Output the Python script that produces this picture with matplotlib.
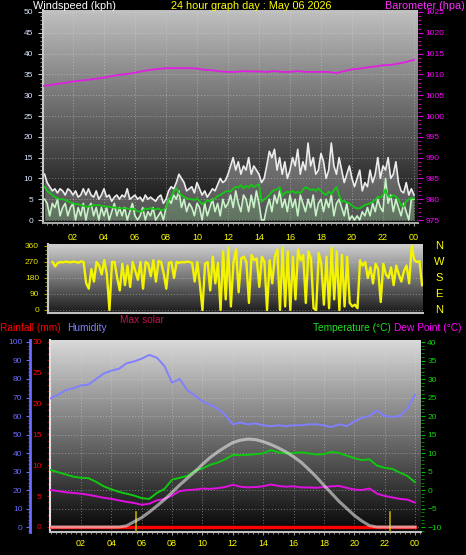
import numpy as np
import matplotlib
matplotlib.use('Agg')
import matplotlib.pyplot as plt
from matplotlib.colors import LinearSegmentedColormap
from matplotlib.ticker import MultipleLocator
from matplotlib.transforms import blended_transform_factory

plt.rcParams['font.family'] = ['Liberation Sans', 'DejaVu Sans']

# ---------------- data ----------------
hour_ticks = [2, 4, 6, 8, 10, 12, 14, 16, 18, 20, 22, 24]
hour_labels = ['02', '04', '06', '08', '10', '12', '14', '16', '18', '20', '22', '00']

# 10-minute samples (hour h -> 6 values)
wind_gust = [
    11, 9, 8, 7, 7.5, 6.5,
    7.5, 7, 6, 7.5, 7, 6,
    7, 5.5, 6, 7.5, 6, 7.5,
    6, 5.5, 7, 5, 6, 7.5,
    5.5, 6, 4.5, 5.5, 6, 5,
    6, 5.5, 7.5, 5, 5.5, 6,
    5, 5.5, 4.5, 6, 5, 5.5,
    5, 4.5, 5.5, 6, 4, 5,
    7, 8, 7.5, 9, 11, 10,
    9, 7, 7.5, 8, 6.5, 9,
    7.5, 6, 7, 5.5, 6.5, 7.5,
    7, 8.5, 10, 9, 9.5, 11,
    13, 15, 12, 14, 11, 13,
    12, 15, 11, 13, 12, 11,
    9, 10, 13, 16.5, 15, 17,
    12, 15, 11, 14, 10, 12,
    15, 13, 17, 11, 14, 12,
    18.5, 13, 15, 11, 12, 16,
    14, 10, 12, 18.5, 13, 11,
    15, 12, 9, 11, 13, 10,
    8, 10, 12, 7, 9, 8,
    12, 9, 11, 15, 10, 13,
    12, 15, 10, 11, 14, 9,
    7, 6.5, 9, 6, 7.5, 6,
]
wind_speed = [
    5, 4, 1, 4, 3, 5,
    1, 3, 4, 1, 3, 4,
    0, 3, 1, 4, 0, 3,
    4, 1, 3, 0, 3, 1,
    3, 0, 2, 4, 1, 3,
    1, 3, 0, 2, 4, 1,
    0, 1, 3, 0, 2, 1,
    3, 0, 1, 2, 0, 3,
    5, 4, 6, 5, 7, 3,
    5, 2, 4, 3, 1, 4,
    3, 0, 4, 1, 3, 5,
    2, 4, 1, 5, 3, 4,
    6, 3, 7, 4, 2, 6,
    5, 2, 6, 3, 7, 4,
    0, 0, 3, 5, 2, 6,
    4, 7, 3, 5, 2, 6,
    3, 5, 1, 6, 4, 2,
    5, 3, 6, 1, 4, 5,
    2, 5, 3, 6, 1, 4,
    5, 3, 1, 4, 0, 1,
    0, 1, 0, 2, 1, 3,
    1, 4, 2, 5, 3, 2,
    10, 4, 6, 2, 5, 3,
    1, 4, 2, 0, 5, 5,
]
wind_avg = [
    8, 7, 6.5, 6, 5.5, 5.2,
    5, 5, 4.8, 4.5, 4.2, 4,
    3.8, 3.8, 3.6, 3.4, 3.2, 3.2,
    3.4, 3.6, 3.5, 3.6, 3.4, 3.3,
    3.2, 3.2, 3.0, 3.1, 2.9, 2.8,
    2.9, 2.8, 2.8, 2.6, 2.7, 2.5,
    2.1, 2.0, 2.2, 2.8, 2.6, 2.9,
    2.7, 2.5, 2.8, 2.4, 2.4, 3.0,
    4.8, 5.5, 6.8, 7.6, 6.4, 6.0,
    5.5, 5.2, 5.0, 5.0, 4.8, 5.2,
    4.5, 3.8, 4.2, 4.8, 4.5, 4.8,
    5.2, 5.8, 6.0, 6.4, 6.8, 7.0,
    6.8, 7.5, 8.0, 7.8, 8.4, 7.6,
    8.2, 7.8, 8.5, 7.9, 8.3, 8.6,
    4.4, 5.0, 5.4, 6.0, 6.8, 7.2,
    7.4, 7.9, 5.8, 6.5, 6.8, 6.6,
    7.0, 6.5, 6.8, 6.4, 7.2, 7.9,
    7.6, 7.2, 7.4, 7.0, 7.6, 7.0,
    6.4, 6.0, 6.8, 6.2, 7.2, 7.9,
    6.0, 4.4, 4.6, 4.2, 4.0, 3.5,
    3.0, 2.8, 2.8, 3.2, 3.6, 3.8,
    4.0, 4.4, 4.8, 5.6, 5.4, 6.0,
    7.4, 5.8, 5.4, 6.0, 5.6, 5.0,
    3.5, 3.2, 4.5, 5.0, 5.2, 5.2,
]
wind_dir = [
    270, 245, 265, 270, 268, 272,
    270, 268, 272, 270, 266, 274,
    270, 150, 120, 230, 160, 270,
    250, 200, 280, 200, 0, 270,
    270, 180, 110, 260, 140, 250,
    130, 270, 220, 170, 270, 120,
    270, 260, 190, 280, 160, 275,
    270, 205, 120, 265, 270, 180,
    270, 265, 270, 268, 272, 270,
    265, 160, 270, 145, 0, 260,
    270, 110, 300, 150, 265, 0,
    330, 60, 350, 20, 270, 340,
    100, 290, 300, 270, 40, 310,
    280, 290, 130, 300, 270, 0,
    280, 150, 300, 340, 0, 350,
    20, 330, 0, 300, 60, 340,
    280, 310, 40, 330, 290, 10,
    0, 320, 260, 30, 300, 10,
    350, 60, 330, 0, 310, 20,
    300, 40, 20, 30, 10, 280,
    250, 270, 180, 240, 150, 260,
    230, 45, 260, 200, 180, 240,
    140, 250, 200, 160, 220, 250,
    150, 360, 280, 270, 275, 140,
]

# 30-minute samples (0, 0.5, ... 24 h)
barometer = [
    1007.2, 1007.4, 1007.7, 1008.0, 1008.3, 1008.5, 1008.7, 1009.0,
    1009.2, 1009.6, 1009.9, 1010.1, 1010.4, 1010.8, 1011.1, 1011.3,
    1011.5, 1011.5, 1011.5, 1011.5, 1011.4, 1011.1, 1011.0, 1010.7,
    1010.6, 1010.6, 1010.8, 1010.7, 1010.7, 1010.6, 1010.8, 1010.6,
    1010.6, 1010.8, 1010.6, 1010.6, 1010.6, 1010.6, 1010.3, 1010.8,
    1011.2, 1011.4, 1011.7, 1011.9, 1012.2, 1012.3, 1012.6, 1013.0,
    1013.5,
]
humidity = [
    69.6, 71.5, 74, 75, 76.5, 77, 80, 83,
    84.5, 85.5, 88.5, 89.5, 91, 93, 91.5, 87,
    78, 80, 74, 71, 68, 66, 64, 60.5,
    55.5, 56.5, 55.5, 56, 55, 54.5, 55, 54.5,
    55, 55, 55.5, 55.5, 55, 54, 55.5, 54.5,
    57, 59, 60, 63, 60, 59.5, 60, 64,
    71.5,
]
temperature = [
    5.4, 4.8, 4.2, 3.6, 3.3, 3.2, 2.2, 1.0,
    0.2, -0.5, -1.0, -1.5, -2.2, -2.4, -0.8, 0.3,
    2.8, 3.3, 3.8, 5.2, 5.8, 6.8, 7.4, 8.3,
    9.5, 9.4, 9.5, 9.7, 9.9, 10.8, 10.2, 9.9,
    10.0, 10.2, 9.9, 9.6, 9.7, 10.3, 10.0, 9.3,
    8.6, 8.1, 8.3, 6.6, 6.0, 5.7, 4.7, 3.8,
    2.1,
]
dew_point = [
    0.0, -0.3, -0.6, -0.8, -1.0, -1.3, -1.7, -2.1,
    -2.4, -2.8, -3.2, -3.5, -4.0, -3.7, -2.8, -2.4,
    -1.5, -0.3, 0.0, 0.1, 0.4, 0.3, 0.5, 0.8,
    1.4, 0.9, 0.7, 0.8, 1.0, 1.5, 1.1, 0.9,
    1.0, 0.7, 0.7, 0.6, 0.8, 1.0, 1.1, 0.6,
    0.1, 0.0, 0.4, -1.0, -1.6, -2.0, -2.4, -2.6,
    -3.4,
]
rainfall = [
    0, 0, 0, 0, 0, 0, 0, 0, 0, 0, 0, 0, 0, 0, 0, 0,
    0, 0, 0, 0, 0, 0, 0, 0, 0, 0, 0, 0, 0, 0, 0, 0,
    0, 0, 0, 0, 0, 0, 0, 0, 0, 0, 0, 0, 0, 0, 0, 0,
    0,
]
max_solar = [
    0, 0, 0, 0, 0, 0, 0, 0, 0, 0, 8, 37,
    66, 105, 148, 193, 243, 295, 342, 388, 440, 488, 527, 562,
    593, 610, 618, 614, 600, 580, 556, 528, 494, 455, 405, 352,
    293, 237, 180, 131, 82, 42, 10, 0, 0, 0, 0, 0,
    0,
]
sun_marks = [5.62, 22.35]

t10 = np.arange(1, 145) / 6.0
t30 = np.arange(49) * 0.5

# ---------------- figure ----------------
W, H = 466, 555
fig = plt.figure(figsize=(W / 100, H / 100), dpi=100)
fig.patch.set_facecolor('black')


def rect(l, t, r, b):
    return [l / W, 1 - b / H, (r - l) / W, (b - t) / H]


def paint(ax, top, bottom):
    cmap = LinearSegmentedColormap.from_list('bg', [bottom, top])
    ax.imshow(np.linspace(0, 1, 256).reshape(-1, 1), cmap=cmap, origin='lower',
              aspect='auto', extent=[0, 1, 0, 1], transform=ax.transAxes, zorder=0)


GRID = dict(color='#dcdcdc', linestyle=(0, (1, 2)), linewidth=0.7, alpha=0.45)

# ---- panel 1: wind + barometer ----
ax1 = fig.add_axes(rect(43, 10, 418, 223))
ax1.set_facecolor('black')
paint(ax1, '#c0c0c0', '#0a0a0a')
ax1.fill_between(t10, wind_speed, wind_gust, color='white', alpha=0.28, lw=0, zorder=2)
ax1.fill_between(t10, 0, wind_speed, color='#c8f0c8', alpha=0.45, lw=0, zorder=2)
ax1.plot(t10, wind_gust, color='#ececec', lw=1.2, zorder=3)
ax1.plot(t10, wind_speed, color='#c8f2c8', lw=1.2, zorder=4)
ax1.plot(t10, wind_avg, color='#16c816', lw=1.3, zorder=5)
ax1.set_xlim(0.065, 24.26)
ax1.set_ylim(-0.72, 50.48)
ax1.set_xticks(hour_ticks)
ax1.set_xticklabels(hour_labels)
ax1.xaxis.set_minor_locator(MultipleLocator(1 / 3))
ax1.tick_params(axis='x', which='major', colors='#a0a0a0', labelcolor='#ffff00', labelsize=6.5, length=2, pad=5.5)
ax1.tick_params(axis='x', which='minor', colors='#a0a0a0', length=1.5)
ax1.set_yticks(range(0, 51, 5))
ax1.yaxis.set_minor_locator(MultipleLocator(1))
ax1.tick_params(axis='y', which='major', colors='#c8c8c8', labelcolor='#d8e4ff', labelsize=6, length=3.5, pad=3.5)
ax1.tick_params(axis='y', which='minor', colors='#a8a8a8', length=2)
ax1.grid(True, which='major', **GRID)
for s in ('top', 'right'):
    ax1.spines[s].set_visible(False)
ax1.spines['left'].set_color('#c8c8c8')
ax1.spines['left'].set_linewidth(1.5)
ax1.spines['bottom'].set_color('#a8a8a8')
ax1.spines['bottom'].set_linewidth(1.5)

ax1b = ax1.twinx()
ax1b.plot(t30, barometer, color='#e020e0', lw=1.3)
ax1b.set_ylim(975 - 0.72, 1025.48)
ax1b.set_yticks(range(975, 1026, 5))
ax1b.yaxis.set_minor_locator(MultipleLocator(1))
ax1b.tick_params(axis='y', which='major', colors='#e000e0', labelcolor='#ff00ff', labelsize=6, length=3.5, pad=2)
ax1b.tick_params(axis='y', which='minor', colors='#e000e0', length=2)
for s in ax1b.spines.values():
    s.set_visible(False)

# ---- panel 2: wind direction ----
ax2 = fig.add_axes(rect(48, 244, 423, 313))
ax2.set_facecolor('black')
paint(ax2, '#d0d0d0', '#1a1a1a')
ax2.plot(t10, wind_dir, color='#f4f400', lw=1.7, zorder=3)
ax2.set_xlim(-0.13, 24.06)
ax2.set_ylim(-16.9, 371.2)
ax2.tick_params(axis='x', bottom=False, labelbottom=False)
ax2.set_yticks([0, 90, 180, 270, 360])
ax2.yaxis.set_minor_locator(MultipleLocator(22.5))
ax2.tick_params(axis='y', which='major', colors='#a0a000', labelcolor='#e4e400', labelsize=6, length=3, pad=3.5)
ax2.tick_params(axis='y', which='minor', colors='#a0a000', length=2)
ax2.grid(True, axis='y', which='major', **GRID)
for s in ('top', 'right'):
    ax2.spines[s].set_visible(False)
ax2.spines['left'].set_color('#c8c8c8')
ax2.spines['left'].set_linewidth(1.5)
ax2.spines['bottom'].set_color('#c0c0c0')
ax2.spines['bottom'].set_linewidth(1.5)
compass = blended_transform_factory(fig.transFigure, ax2.transData)
for val, lab in zip([360, 270, 180, 90, 0], ['N', 'W', 'S', 'E', 'N']):
    ax2.text(439 / W, val, lab, transform=compass, color='#ffff00', fontsize=8,
             ha='center', va='center')

# ---- panel 3: temperature / humidity / rain / solar ----
rect3 = rect(50, 340, 421, 532)
x3 = (-0.04, 24.395)
ax3g = fig.add_axes(rect3)
ax3g.set_facecolor('black')
paint(ax3g, '#dadada', '#050505')
ax3g.set_xlim(*x3)
ax3g.set_ylim(-11.351, 40.541)
ax3g.set_xticks(hour_ticks)
ax3g.set_yticks(range(-10, 41, 5))
ax3g.grid(True, which='major', **GRID)
ax3g.tick_params(left=False, bottom=False, labelleft=False, labelbottom=False)
for s in ax3g.spines.values():
    s.set_visible(False)

ax3 = fig.add_axes(rect3)
ax3.patch.set_visible(False)
ax3.plot(t30, rainfall, color='#ff0000', lw=2.4, zorder=3)
for m in sun_marks:
    ax3.axvline(m, ymin=0, ymax=0.105, color='#b8a800', lw=1.2, zorder=4)
ax3.set_xlim(*x3)
ax3.set_ylim(-0.811, 30.324)
ax3.set_xticks(hour_ticks)
ax3.set_xticklabels(hour_labels)
ax3.xaxis.set_minor_locator(MultipleLocator(1 / 3))
ax3.tick_params(axis='x', which='major', colors='#a0a0a0', labelcolor='#ffff00', labelsize=6.5, length=2, pad=3)
ax3.tick_params(axis='x', which='minor', colors='#a0a0a0', length=1.5)
ax3.set_yticks(range(0, 31, 5))
ax3.yaxis.set_minor_locator(MultipleLocator(1))
ax3.tick_params(axis='y', which='major', colors='#d00000', labelcolor='#ff0000', labelsize=6, length=2.5, pad=3.5)
ax3.tick_params(axis='y', which='minor', colors='#c00000', length=2)
for s in ('top', 'right'):
    ax3.spines[s].set_visible(False)
ax3.spines['left'].set_color('#e0e0e0')
ax3.spines['left'].set_linewidth(1.5)
ax3.spines['bottom'].set_color('#c0c0c0')
ax3.spines['bottom'].set_linewidth(1.5)

ax3h = ax3.twinx()
ax3h.plot(t30, humidity, color='#8080ff', lw=1.4)
ax3h.set_ylim(-2.70, 101.08)
ax3h.yaxis.set_ticks_position('left')
ax3h.spines['left'].set_position(('outward', 14.4))
ax3h.spines['left'].set_visible(True)
ax3h.spines['left'].set_color('#6a6aff')
ax3h.spines['left'].set_linewidth(2)
for s in ('top', 'right', 'bottom'):
    ax3h.spines[s].set_visible(False)
ax3h.set_yticks(range(0, 101, 10))
ax3h.yaxis.set_minor_locator(MultipleLocator(2))
ax3h.tick_params(axis='y', which='major', colors='#6a6aff', labelcolor='#6a6aff', labelsize=6, length=3, pad=2.5)
ax3h.tick_params(axis='y', which='minor', colors='#6a6aff', length=1.8)

ax3t = ax3.twinx()
ax3t.plot(t30, temperature, color='#10c810', lw=1.4)
ax3t.plot(t30, dew_point, color='#e010e0', lw=1.4)
ax3t.set_ylim(-11.351, 40.541)
ax3t.set_yticks(range(-10, 41, 5))
ax3t.yaxis.set_minor_locator(MultipleLocator(1))
ax3t.tick_params(axis='y', which='major', colors='#00c000', labelcolor='#10d010', labelsize=6, length=3, pad=1.5)
ax3t.tick_params(axis='y', which='minor', colors='#00a000', length=2)
for s in ax3t.spines.values():
    s.set_visible(False)

ax3s = ax3.twinx()
ax3s.plot(t30, max_solar, color='#e8e8e8', lw=2.2, alpha=0.6)
ax3s.set_ylim(-35.1, 1314)
ax3s.set_yticks([])
for s in ax3s.spines.values():
    s.set_visible(False)

# ---- header texts ----
def ftext(x, y, s, color, size, ha='left'):
    fig.text(x / W, 1 - y / H, s, color=color, fontsize=size, ha=ha, va='baseline')

ftext(33, 9, 'Windspeed (kph)', 'white', 7.8)
ftext(251, 9, '24 hour graph day : May 06 2026', '#ffff00', 7.8, ha='center')
ftext(465, 9, 'Barometer (hpa)', '#ff30ff', 7.8, ha='right')
ftext(120, 323, 'Max solar', '#c0184a', 7.3)
ftext(0, 331, 'Rainfall (mm)', '#ff0000', 7.3)
ftext(67, 331, 'Humidity', '#8080ff', 7.3)
ftext(313, 331, 'Temperature (\u00b0C)', '#20e020', 7.3)
ftext(394, 331, 'Dew Point (\u00b0C)', '#ff00ff', 7.3)

fig.savefig('out.png', dpi=100, facecolor='black')
